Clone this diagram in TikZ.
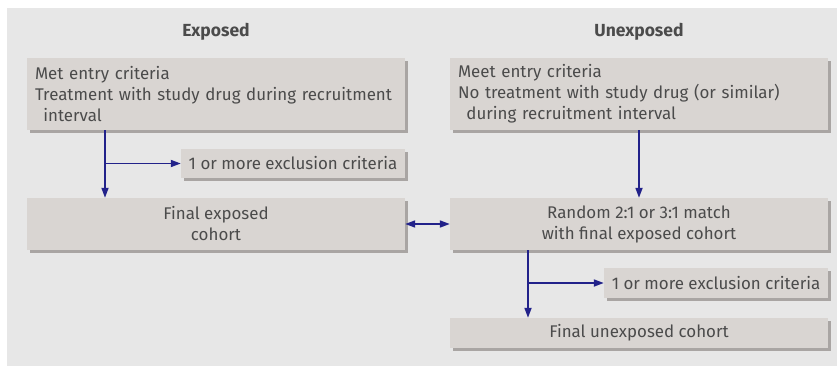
\documentclass[tikz,border=0pt]{standalone}
\usepackage{fontspec}
\setmainfont{Fira Sans}
\usetikzlibrary{arrows.meta,shadows}
\definecolor{panelgrey}{HTML}{E7E7E7}
\definecolor{boxgrey}{HTML}{D9D5D2}
\definecolor{shadegrey}{HTML}{A9A5A3}
\definecolor{arrowblue}{HTML}{22228A}
\definecolor{textgrey}{HTML}{4B4B4B}
\tikzset{
  flowbox/.style={fill=boxgrey,draw=none,inner sep=0pt,text=textgrey,
    font=\fontsize{16.9}{21}\selectfont,
    drop shadow={shadow xshift=3pt,shadow yshift=-3pt,fill=shadegrey,opacity=1}},
  heading/.style={text=textgrey,font=\fontsize{17.5}{20}\selectfont\bfseries},
  arr/.style={->,draw=arrowblue,line width=1.7pt,>={Triangle[length=10pt,width=7pt]}}
}
\begin{document}
\begin{tikzpicture}[x=1pt,y=-1pt]
\useasboundingbox (0,0) rectangle (837,367);
\fill[panelgrey] (7,8) rectangle (837,366);
% ---------- headings ----------
\node[heading] (hexp) at (216,32) {Exposed};
\node[heading] (hunexp) at (639,32) {Unexposed};
% ---------- exposed column ----------
\node[flowbox,minimum width=378pt,minimum height=72pt,text width=362pt,align=left]
  (expin) at (216,94) {Met entry criteria\\Treatment with study drug during recruitment\\\hspace*{0.5em}interval};
\node[flowbox,minimum width=224pt,minimum height=29pt,align=center]
  (excl1) at (293,163.5) {1 or more exclusion criteria};
\node[flowbox,minimum width=378pt,minimum height=52pt,align=center]
  (finexp) at (216,224) {Final exposed\\cohort};
% ---------- unexposed column ----------
\node[flowbox,minimum width=378pt,minimum height=72pt,text width=362pt,align=left]
  (unexpin) at (639,94) {Meet entry criteria\\No treatment with study drug (or similar)\\\hspace*{0.5em}during recruitment interval};
\node[flowbox,minimum width=378pt,minimum height=52pt,align=center]
  (random) at (639,224) {Random 2:1 or 3:1 match\\with final exposed cohort};
\node[flowbox,minimum width=224pt,minimum height=30pt,align=center]
  (excl2) at (716,283) {1 or more exclusion criteria};
\node[flowbox,minimum width=378pt,minimum height=30pt,align=center]
  (finunexp) at (639,333) {Final unexposed cohort};
% ---------- connectors ----------
\coordinate (lx) at (105,0);
\coordinate (rx) at (528,0);
\draw[arr] (lx |- expin.south) -- (lx |- finexp.north);
\draw[arr] (lx |- excl1.west) -- (excl1.west);
\draw[arr] (unexpin.south) -- (random.north);
\draw[arr,<->] (finexp.east) -- (random.west);
\draw[arr] (rx |- random.south) -- (rx |- finunexp.north);
\draw[arr] (rx |- excl2.west) -- (excl2.west);
\end{tikzpicture}
\end{document}
